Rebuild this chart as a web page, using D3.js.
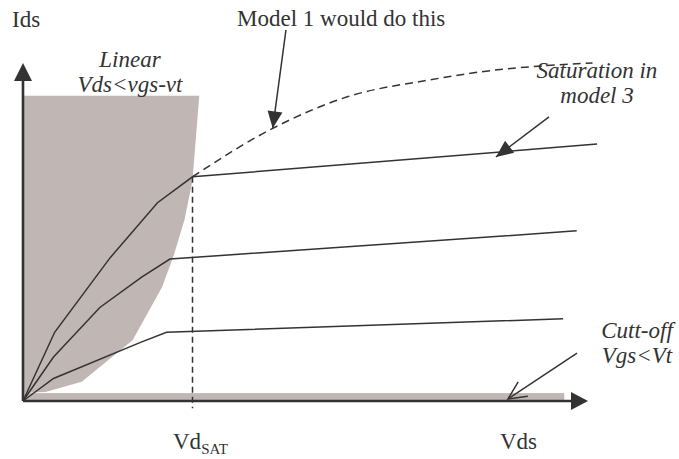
<!DOCTYPE html>
<html><head><meta charset="utf-8">
<script src="https://cdn.jsdelivr.net/npm/d3@7"></script>
<style>
html,body{margin:0;padding:0;background:#fff;}
</style></head>
<body>
<svg id="chart" width="679" height="459"></svg>
<script>
// Data (Vds in V, Ids in arbitrary units)
const curveHigh = [[0,0],[0.28,0.61],[0.77,1.27],[1.19,1.76],[1.5,1.99],[5.08,2.28]];
const curveMid  = [[0,0],[0.27,0.39],[0.68,0.83],[1.05,1.10],[1.3,1.26],[4.9,1.51]];
const curveLow  = [[0,0],[0.27,0.2],[1.04,0.52],[1.27,0.61],[4.78,0.73]];
const model1    = [[1.5,1.99],[2.21,2.42],[2.87,2.70],[3.6,2.85],[4.04,2.92],[5.04,3.0]];
const linearRegion = [[0,2.71],[1.56,2.71],[1.5,1.96],[1.43,1.61],[1.33,1.28],[1.23,1.01],[0.97,0.54],[0.52,0.17],[0.2,0.08],[0,0.07]];
const cutoffRegion = [[0,0],[4.79,0.07]];
const vdsat = 1.5;
const xAxisLabels = ["Vd", "Vds"];
const yAxisLabel = "Ids";

const svg = d3.select("#chart");
const x = d3.scaleLinear().domain([0,5]).range([23,588]);
const y = d3.scaleLinear().domain([0,3]).range([401,63]);
const ink = "#333";
const fillC = "#c0b7b4";
const FONT = "'Liberation Serif', 'Times New Roman', 'DejaVu Serif', serif";

const line = d3.line().x(d=>x(d[0])).y(d=>y(d[1]));

// regions
svg.append("path")
  .attr("d", line(linearRegion)+"Z")
  .attr("fill", fillC);
svg.append("rect")
  .attr("x", x(cutoffRegion[0][0])).attr("y", y(cutoffRegion[1][1]))
  .attr("width", x(cutoffRegion[1][0])-x(cutoffRegion[0][0]))
  .attr("height", y(cutoffRegion[0][1])-y(cutoffRegion[1][1]))
  .attr("fill", fillC);

// curves
[curveHigh, curveMid, curveLow].forEach(c=>{
  svg.append("path").datum(c).attr("d", line).attr("fill","none")
    .attr("stroke", ink).attr("stroke-width",1.5);
});
svg.append("path").datum(model1)
  .attr("d", d3.line().x(d=>x(d[0])).y(d=>y(d[1])).curve(d3.curveMonotoneX))
  .attr("fill","none").attr("stroke",ink).attr("stroke-width",1.5)
  .attr("stroke-dasharray","8,5");
svg.append("line")
  .attr("x1", x(vdsat)).attr("x2", x(vdsat))
  .attr("y1", y(curveHigh[4][1])).attr("y2", y(-0.065))
  .attr("stroke", ink).attr("stroke-width",1.5).attr("stroke-dasharray","6,4");

// axes
svg.append("line").attr("x1",x(0)).attr("y1",y(0)).attr("x2",x(0)).attr("y2",y(2.95))
  .attr("stroke",ink).attr("stroke-width",2.6);
svg.append("line").attr("x1",x(0)).attr("y1",y(0)).attr("x2",x(4.87)).attr("y2",y(0))
  .attr("stroke",ink).attr("stroke-width",2.6);
function tri(tipX, tipY, fromX, fromY, len, half){
  const dx = tipX-fromX, dy = tipY-fromY, L = Math.hypot(dx,dy);
  const ux = dx/L, uy = dy/L;
  const bx = tipX-ux*len, by = tipY-uy*len;
  return `M${tipX},${tipY}L${bx-uy*half},${by+ux*half}L${bx+uy*half},${by-ux*half}Z`;
}
svg.append("path").attr("d", tri(x(0),y(3),x(0),y(0),18,9)).attr("fill",ink);
svg.append("path").attr("d", tri(x(5),y(0),x(0),y(0),17,9)).attr("fill",ink);

// annotation arrows
function arrow(from, to, filled){
  const fx=x(from[0]), fy=y(from[1]), tx=x(to[0]), ty=y(to[1]);
  svg.append("line").attr("x1",fx).attr("y1",fy).attr("x2",tx).attr("y2",ty)
    .attr("stroke",ink).attr("stroke-width",1.5);
  if(filled){
    svg.append("path").attr("d", tri(tx,ty,fx,fy,17,7.5)).attr("fill",ink);
  } else {
    const dx=tx-fx, dy=ty-fy, L=Math.hypot(dx,dy), ux=dx/L, uy=dy/L;
    const len=20, a=Math.PI/7;
    const c=Math.cos(a), s=Math.sin(a);
    const p1=[tx-len*(ux*c-uy*s), ty-len*(uy*c+ux*s)];
    const p2=[tx-len*(ux*c+uy*s), ty-len*(uy*c-ux*s)];
    svg.append("path").attr("d",`M${p1[0]},${p1[1]}L${tx},${ty}L${p2[0]},${p2[1]}`)
      .attr("fill","none").attr("stroke",ink).attr("stroke-width",1.5);
  }
}
arrow([2.327,3.293],[2.21,2.42],true);
arrow([4.655,2.521],[4.186,2.166],true);
arrow([4.903,0.426],[4.292,0.018],false);

// texts
const fs = 23;
function txt(){ return svg.append("text").attr("font-family",FONT).attr("fill","#333").attr("font-size",fs); }
txt().attr("x",12).attr("y",27).text(yAxisLabel);
txt().attr("x",237).attr("y",26).text("Model 1 would do this");
const lin = txt().attr("font-style","italic").attr("text-anchor","middle");
lin.append("tspan").attr("x",130).attr("y",67).text("Linear");
lin.append("tspan").attr("x",130).attr("y",92).text("Vds<vgs-vt");
const sat = txt().attr("font-style","italic").attr("text-anchor","middle");
sat.append("tspan").attr("x",597).attr("y",78).text("Saturation in");
sat.append("tspan").attr("x",597).attr("y",103).text("model 3");
const cut = txt().attr("font-style","italic").attr("text-anchor","middle");
cut.append("tspan").attr("x",637).attr("y",338).text("Cutt-off");
cut.append("tspan").attr("x",637).attr("y",363).text("Vgs<Vt");
const vd = txt().attr("x",173).attr("y",449);
vd.append("tspan").text(xAxisLabels[0]);
vd.append("tspan").attr("font-size",15).attr("dy",5).text("SAT");
txt().attr("x",500).attr("y",449).text(xAxisLabels[1]);
</script>
</body></html>
